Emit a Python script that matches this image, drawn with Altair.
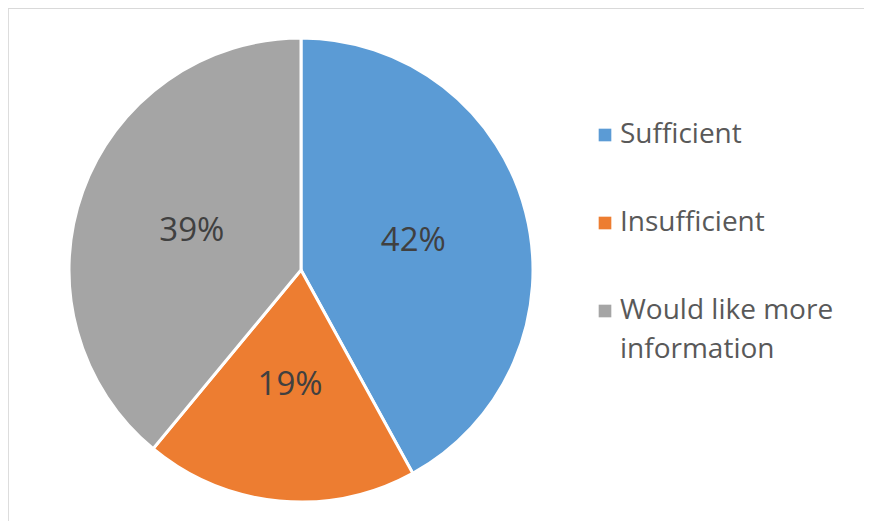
import altair as alt
import pandas as pd

categories = ["Sufficient", "Insufficient", "Would like more information"]
legend_labels = ["Sufficient", "Insufficient", "Would like more\ninformation"]
values = [42, 19, 39]
colors = ["#5B9BD5", "#ED7D31", "#A5A5A5"]

df = pd.DataFrame({
    "category": categories,
    "value": values,
    "order": list(range(len(categories))),
    "label": [f"{v}%" for v in values],
    "legend_label": legend_labels,
})

W, H = 856, 513
CX, CY = 293, 262

color = alt.Color("category:N", scale=alt.Scale(domain=categories, range=colors), legend=None)

base = alt.Chart(df).encode(
    theta=alt.Theta("value:Q", stack=True),
    order=alt.Order("order:Q"),
    x=alt.value(CX),
    y=alt.value(CY),
)

pie = base.mark_arc(outerRadius=232, stroke="white", strokeWidth=3).encode(color=color)

text = base.mark_text(radius=116, font="Open Sans", fontSize=33, color="#404040").encode(
    text="label:N"
)

leg_y = alt.Y("category:N", sort=categories, axis=None,
              scale=alt.Scale(type="point", range=[127, 303], padding=0))

leg_sym = alt.Chart(df).mark_square(size=160, opacity=1).encode(
    x=alt.value(597), y=leg_y, color=color
)
leg_txt = alt.Chart(df).mark_text(
    align="left", baseline="middle", font="Open Sans", fontSize=28,
    color="#595959", lineBreak="\n", lineHeight=39
).encode(x=alt.value(612), y=leg_y, text="legend_label:N")

border = pd.DataFrame({"x": [0], "y": [0]})
left_rule = alt.Chart(border).mark_rule(color="#d9d9d9", strokeWidth=2).encode(
    x=alt.value(-2), y=alt.value(0), y2=alt.value(H + 8)
)
top_rule = alt.Chart(border).mark_rule(color="#d9d9d9", strokeWidth=2).encode(
    y=alt.value(0), x=alt.value(-2), x2=alt.value(W + 8)
)

chart = alt.layer(left_rule, top_rule, pie, text, leg_sym, leg_txt).properties(
    width=W, height=H, padding=0, autosize=alt.AutoSizeParams(type="none")
).configure_view(stroke=None).configure(background="white")

chart.save("out.html", embed_options={"renderer": "svg", "actions": False})
